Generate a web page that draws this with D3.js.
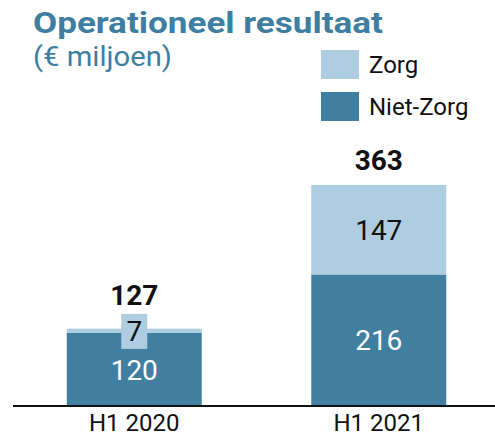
<!DOCTYPE html>
<html>
<head>
<meta charset="utf-8">
<script src="https://cdn.jsdelivr.net/npm/d3@7"></script>
<style>
  body { margin: 0; background: #fff; }
  text { font-family: "Roboto", "Liberation Sans", sans-serif; }
</style>
</head>
<body>
<svg id="svg" width="495" height="442"></svg>
<script>
var categories = ['H1 2020', 'H1 2021'],
    seriesNames = ['Niet-Zorg', 'Zorg'],
    nietZorg = [120, 216],
    zorg = [7, 147],
    totals = [127, 363];

var colors = { 'Niet-Zorg': '#417fa1', 'Zorg': '#aecde0' },
    titleColor = '#3e7ea0';

var svg = d3.select('#svg');

// schalen
var x = d3.scaleBand().domain(categories).range([12, 501]).paddingInner(0.448).paddingOuter(0.224),
    y = d3.scaleLinear().domain([0, 400]).range([406, 162.4]);

var rows = categories.map(function (c, i) {
  return { cat: c, 'Niet-Zorg': nietZorg[i], 'Zorg': zorg[i], total: totals[i] };
});
var stacked = d3.stack().keys(seriesNames)(rows);

// titel
svg.append('text').attr('x', 33).attr('y', 33)
  .attr('fill', titleColor).attr('font-size', 30).attr('font-weight', 'bold')
  .attr('textLength', 350).attr('lengthAdjust', 'spacingAndGlyphs')
  .text('Operationeel resultaat');
svg.append('text').attr('x', 33).attr('y', 66)
  .attr('fill', titleColor).attr('font-size', 27)
  .attr('textLength', 139).attr('lengthAdjust', 'spacingAndGlyphs')
  .text('(€ miljoen)');

// legenda
var legend = svg.selectAll('.legend').data(['Zorg', 'Niet-Zorg']).enter()
  .append('g').attr('class', 'legend')
  .attr('transform', function (d, i) { return 'translate(321,' + (50 + i * 42) + ')'; });
legend.append('rect').attr('width', 38).attr('height', 29)
  .attr('fill', function (d) { return colors[d]; });
legend.append('text').attr('x', 48).attr('y', 23).attr('font-size', 24)
  .attr('fill', '#111').text(function (d) { return d; });

// balken
var layer = svg.selectAll('.layer').data(stacked).enter()
  .append('g').attr('class', 'layer')
  .attr('fill', function (d) { return colors[d.key]; });
layer.selectAll('rect').data(function (d) { return d; }).enter()
  .append('rect')
  .attr('x', function (d) { return x(d.data.cat); })
  .attr('width', x.bandwidth())
  .attr('y', function (d) { return y(d[1]); })
  .attr('height', function (d) { return y(d[0]) - y(d[1]); });

// waardes in de segmenten
stacked.forEach(function (s) {
  s.forEach(function (d) {
    var v = d[1] - d[0],
        cx = x(d.data.cat) + x.bandwidth() / 2,
        cy = (y(d[0]) + y(d[1])) / 2,
        small = y(d[0]) - y(d[1]) < 30;
    if (small) {
      // klein segment: label in een eigen vakje
      cy = y(d[0]) - 2;
      svg.append('rect').attr('x', cx - 13).attr('y', cy - 17)
        .attr('width', 26).attr('height', 35).attr('fill', colors[s.key]);
    }
    svg.append('text').attr('x', cx).attr('y', cy)
      .attr('dy', '0.36em').attr('text-anchor', 'middle')
      .attr('font-size', 28)
      .attr('fill', s.key === 'Niet-Zorg' ? '#fff' : '#111')
      .text(v);
  });
});

// totalen
svg.selectAll('.total').data(rows).enter().append('text')
  .attr('class', 'total')
  .attr('x', function (d) { return x(d.cat) + x.bandwidth() / 2; })
  .attr('y', function (d) { return d.total < 200 ? 305 : 170; })
  .attr('text-anchor', 'middle').attr('font-size', 28).attr('font-weight', 'bold')
  .attr('fill', '#111')
  .text(function (d) { return d.total; });

// x-as
var axis = svg.append('g').attr('transform', 'translate(0,406)')
  .call(d3.axisBottom(x).tickSize(0).tickPadding(8));
axis.select('.domain').attr('d', 'M13,0H495').attr('stroke', '#111').attr('stroke-width', 2);
axis.selectAll('text').attr('font-size', 24).attr('fill', '#111')
  .attr('font-family', '"Roboto", sans-serif');
</script>
</body>
</html>
